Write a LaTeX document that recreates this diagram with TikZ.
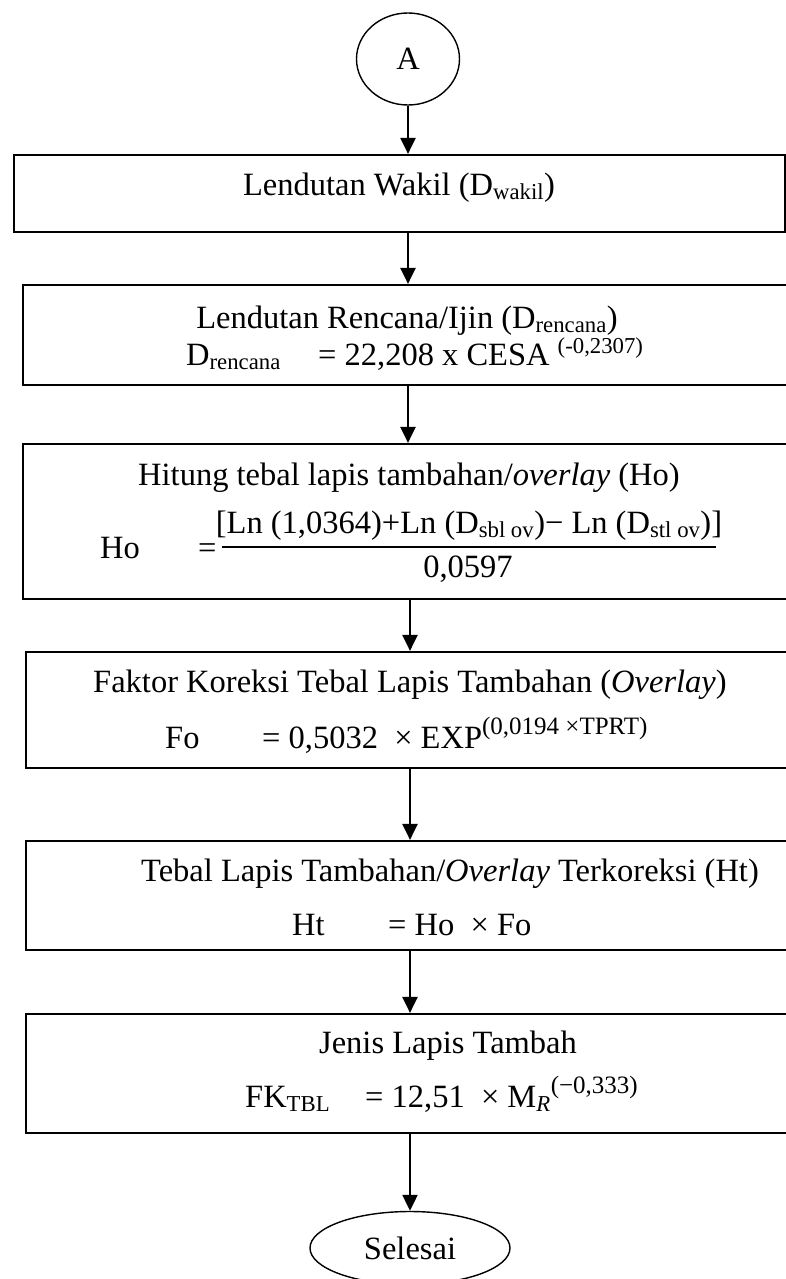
\documentclass[tikz,border=0pt]{standalone}
\usepackage{fix-cm}
\usepackage{fontspec}
\setmainfont{Liberation Serif}
\usetikzlibrary{arrows.meta,shapes.geometric}

\newcommand{\powtxt}[1]{\raisebox{0.42em}{\fontsize{25}{25}\selectfont #1}}

\tikzset{
  box/.style={draw,line width=2.2pt,minimum width=787pt},
  txt/.style={inner sep=0pt,font=\fontsize{32.5}{39}\selectfont},
  eq/.style={txt,anchor=base west},
  ttl/.style={txt,anchor=base},
  term/.style={draw,ellipse,line width=1.4pt,txt},
  flow/.style={line width=2.2pt,-{Triangle[length=16pt,width=15pt]}},
}

\begin{document}
\begin{tikzpicture}[x=1pt,y=-1pt]
  % frame
  \clip (0,0) rectangle (786,1279);
  % terminals
  \node[term,minimum width=103pt,minimum height=92pt] (a) at (408,59) {A};
  \node[term,minimum width=200pt,minimum height=73pt] (end) at (410,1248) {Selesai};
  % boxes
  \node[box,minimum width=771pt,minimum height=77pt] (b1) at (399.5,193.5) {};
  \node[box,minimum height=100pt] (b2) at (416.5,335) {};
  \node[box,minimum height=155pt] (b3) at (416.5,521.5) {};
  \node[box,minimum width=784pt,minimum height=116pt] (b4) at (418,710) {};
  \node[box,minimum width=784pt,minimum height=109pt] (b5) at (418,895.5) {};
  \node[box,minimum width=784pt,minimum height=119pt] (b6) at (418,1073.5) {};
  % box texts
  \node[ttl] (t1) at (399,195) {Lendutan Wakil (D\textsubscript{wakil})};
  \node[ttl] (t2) at (407,328) {Lendutan Rencana/Ijin (D\textsubscript{rencana})};
  \node[eq] (d2) at (186,365) {D\textsubscript{rencana}};
  \node[eq] (e2) at (318,365) {= 22,208 x CESA \textsuperscript{(-0,2307)}};
  \node[ttl] (t3) at (409,485) {Hitung tebal lapis tambahan/\textit{overlay} (Ho)};
  \node[eq] (d3) at (100,558) {Ho};
  \node[eq] (e3) at (198,558) {=};
  \node[ttl] (num3) at (469,533) {[Ln (1,0364)+Ln (D\textsubscript{sbl ov})− Ln (D\textsubscript{stl ov})]};
  \node[ttl] (den3) at (468,577) {0,0597};
  \coordinate (barl) at (222,547);
  \coordinate (barr) at (716,547);
  \draw[line width=2.8pt] (barl) -- (barr);
  \node[ttl] (t4) at (410,692) {Faktor Koreksi Tebal Lapis Tambahan (\textit{Overlay})};
  \node[eq] (d4) at (165,748) {Fo};
  \node[eq] (e4) at (262,748) {= 0,5032 \ × EXP\powtxt{(0,0194 ×TPRT)}};
  \node[ttl] (t5) at (450,881) {Tebal Lapis Tambahan/\textit{Overlay} Terkoreksi (Ht)};
  \node[eq] (d5) at (292,935) {Ht};
  \node[eq] (e5) at (388,935) {= Ho \ × Fo};
  \node[ttl] (t6) at (448,1053) {Jenis Lapis Tambah};
  \node[eq] (d6) at (245,1107) {FK\textsubscript{TBL}};
  \node[eq] (e6) at (365,1107) {= 12,51 \ × M\textsubscript{\textit{R}}\powtxt{(−0,333)}};
  % arrows
  \draw[flow] (a.south) -- (a.south |- b1.north);
  \draw[flow] (b1.south -| a.south) -- (b2.north -| a.south);
  \draw[flow] (b2.south -| a.south) -- (b3.north -| a.south);
  \draw[flow] (b3.south -| end.north) -- (b4.north -| end.north);
  \draw[flow] (b4.south -| end.north) -- (b5.north -| end.north);
  \draw[flow] (b5.south -| end.north) -- (b6.north -| end.north);
  \draw[flow] (b6.south -| end.north) -- (end.north);
\end{tikzpicture}
\end{document}
